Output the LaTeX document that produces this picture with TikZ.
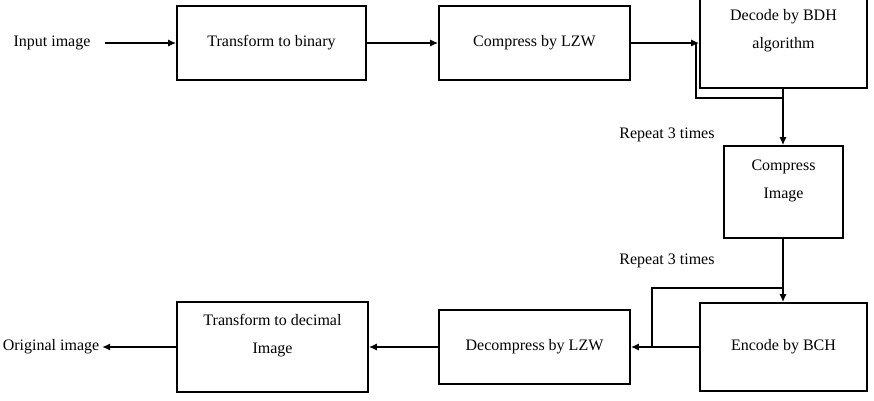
\documentclass[tikz,border=0pt]{standalone}
\usepackage{fontspec}
\setmainfont{Liberation Serif}
\usetikzlibrary{arrows.meta}

\begin{document}
\begin{tikzpicture}[x=0.75pt,y=-0.75pt,
	font=\fontsize{12}{21}\selectfont,
	blk/.style={draw, line width=1.4pt, inner sep=0pt},
	txt/.style={align=center, inner sep=2pt},
	arr/.style={-{Latex[length=6pt,width=5.5pt]}, line width=1.1pt},
	ln/.style={line width=1.1pt}]
	\useasboundingbox (0,0) rectangle (874,400);

	\node[txt] (input) at (52,43) {Input image};
	\node[txt] (orig) at (51,347) {Original image};

	\node[blk, minimum width=189pt*0.75, minimum height=74pt*0.75] (bin) at (271.5,43) {Transform to binary};
	\node[blk, minimum width=191pt*0.75, minimum height=74pt*0.75] (lzw) at (534.5,43) {Compress by LZW};
	\node[blk, minimum width=167pt*0.75, minimum height=90pt*0.75] (bdh) at (783.5,43) {};
	\node[txt] at (783.5,31) {Decode by BDH\\algorithm};
	\node[blk, minimum width=119pt*0.75, minimum height=92pt*0.75] (cimg) at (783.5,192) {};
	\node[txt] at (783.5,181) {Compress\\Image};
	\node[blk, minimum width=167pt*0.75, minimum height=88pt*0.75] (bch) at (783.5,347) {Encode by BCH};
	\node[blk, minimum width=191pt*0.75, minimum height=74pt*0.75] (dlzw) at (534.5,347) {Decompress by LZW};
	\node[blk, minimum width=191pt*0.75, minimum height=90pt*0.75] (dec) at (272.5,347) {};
	\node[txt] at (272.5,336) {Transform to decimal\\Image};

	\node[txt] (rep1) at (667,135) {Repeat 3 times};
	\node[txt] (rep2) at (667,261) {Repeat 3 times};

	\coordinate (la) at (783,98);
	\coordinate (lb) at (696,43);
	\coordinate (lc) at (783,288);
	\coordinate (ld) at (652,347);

	\draw[arr, shorten <=9pt] (input.east) -- (bin.west);
	\draw[arr] (bin.east) -- (lzw.west);
	\draw[arr] (lzw.east) -- (bdh.west);
	\draw[arr] (bdh.south -| la) -- (cimg.north -| la);
	\draw[ln] (la) -| (lb);
	\draw[arr] (cimg.south -| lc) -- (bch.north -| lc);
	\draw[ln] (lc) -| (ld);
	\draw[arr] (bch.west) -- (dlzw.east);
	\draw[arr] (dlzw.west) -- (dec.east);
	\draw[arr] (dec.west) -- (orig.east);
\end{tikzpicture}
\end{document}
